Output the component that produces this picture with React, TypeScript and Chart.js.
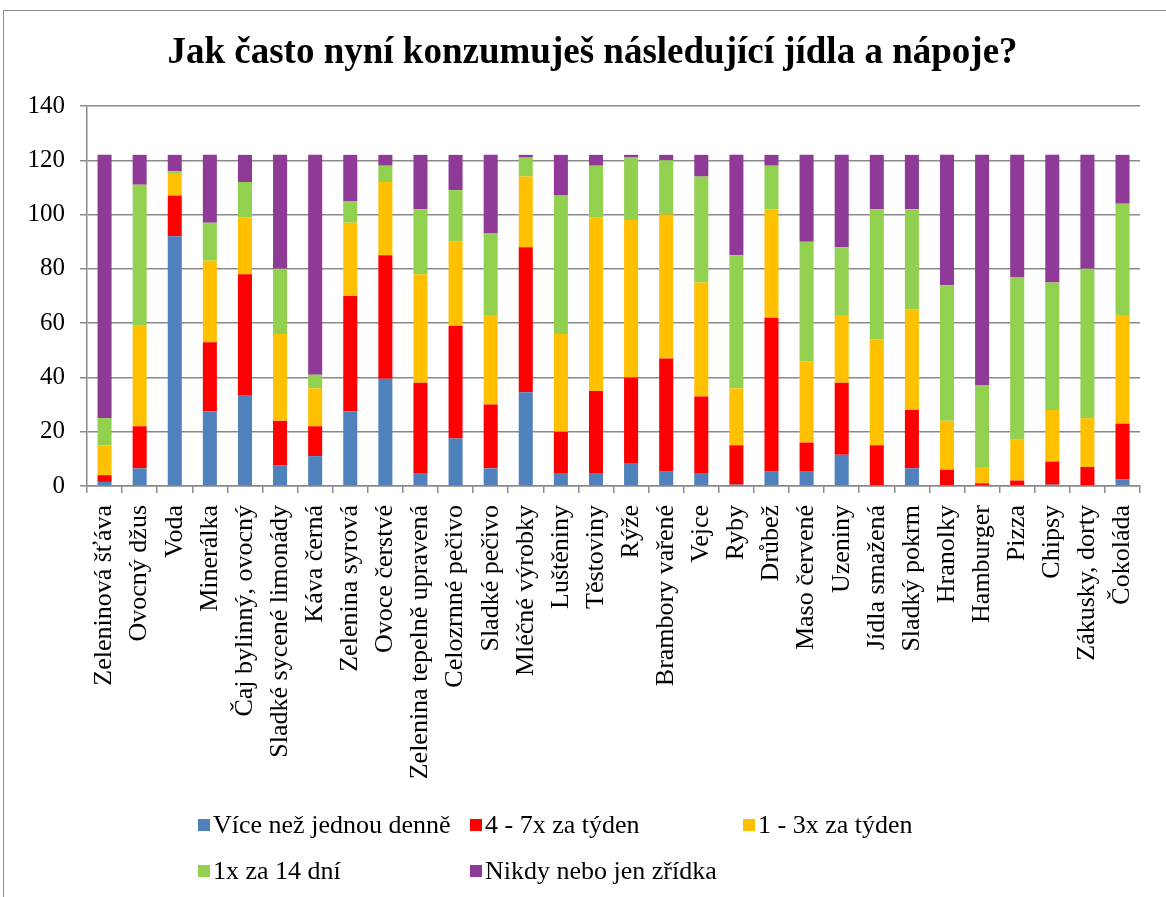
import React, { useEffect, useRef } from "react";
import { Chart, registerables } from "chart.js";

Chart.register(...registerables);

const title = "Jak často nyní konzumuješ následující jídla a nápoje?";

const categories = [
  "Zeleninová šťáva", "Ovocný džus", "Voda", "Minerálka", "Čaj bylinný, ovocný",
  "Sladké sycené limonády", "Káva černá", "Zelenina syrová", "Ovoce čerstvé",
  "Zelenina tepelně upravená", "Celozrnné pečivo", "Sladké pečivo", "Mléčné výrobky",
  "Luštěniny", "Těstoviny", "Rýže", "Brambory vařené", "Vejce", "Ryby", "Drůbež",
  "Maso červené", "Uzeniny", "Jídla smažená", "Sladký pokrm", "Hranolky", "Hamburger",
  "Pizza", "Chipsy", "Zákusky, dorty", "Čokoláda",
];

const seriesNames = [
  "Více než jednou denně",
  "4 - 7x za týden",
  "1 - 3x za týden",
  "1x za 14 dní",
  "Nikdy nebo jen zřídka",
];

const seriesColors = ["#4F81BD", "#FF0000", "#FFC000", "#92D050", "#8F3A97"];

const vDaily = [1.5, 6.5, 92, 27.5, 33.5, 7.5, 11, 27.5, 39.5, 4.5, 17.5, 6.5, 34.5, 4.5, 4.5, 8.5, 5.5, 4.5, 0.5, 5.5, 5.5, 11.5, 0, 6.5, 0, 0, 0, 0.5, 0, 2.5];
const v4to7 = [2.5, 15.5, 15, 25.5, 44.5, 16.5, 11, 42.5, 45.5, 33.5, 41.5, 23.5, 53.5, 15.5, 30.5, 31.5, 41.5, 28.5, 14.5, 56.5, 10.5, 26.5, 15, 21.5, 6, 1, 2, 8.5, 7, 20.5];
const v1to3 = [11, 37, 8, 30, 21, 32, 14, 27, 27, 40, 31, 33, 26, 36, 64, 58, 53, 42, 21, 40, 30, 25, 39, 37, 18, 6, 15, 19, 18, 40];
const v14days = [10, 52, 1, 14, 13, 24, 5, 8, 6, 24, 19, 30, 7, 51, 19, 23, 20, 39, 49, 16, 44, 25, 48, 37, 50, 30, 60, 47, 55, 41];
const vNever = [97, 11, 6, 25, 10, 42, 81, 17, 4, 20, 13, 29, 1, 15, 4, 1, 2, 8, 37, 4, 32, 34, 20, 20, 48, 85, 45, 47, 42, 18];

const seriesValues = [vDaily, v4to7, v1to3, v14days, vNever];

const yTicks = [0, 20, 40, 60, 80, 100, 120, 140];

const FONT = '"Liberation Serif", "Times New Roman", serif';
const GRID = "#8a8a8a";

const titleLegendPlugin = {
  id: "titleLegend",
  afterDraw(chart: any) {
    const ctx = chart.ctx;
    ctx.save();
    // title
    ctx.font = `bold 37px ${FONT}`;
    ctx.fillStyle = "#000";
    ctx.textAlign = "center";
    ctx.textBaseline = "alphabetic";
    ctx.fillText(title, 592.5, 63);
    // legend
    const cols = [198, 470, 743];
    const boxTops = [819, 865];
    const baselines = [833, 879];
    ctx.font = `26px ${FONT}`;
    ctx.textAlign = "left";
    chart.data.datasets.forEach((ds: any, i: number) => {
      const row = i < 3 ? 0 : 1;
      const col = i % 3;
      const x = cols[col];
      ctx.fillStyle = ds.backgroundColor;
      ctx.fillRect(x, boxTops[row], 12, 12);
      ctx.fillStyle = "#000";
      ctx.fillText(ds.label, x + 15, baselines[row]);
    });
    ctx.restore();
  },
};

export default function App() {
  const ref = useRef<HTMLCanvasElement | null>(null);

  useEffect(() => {
    if (!ref.current) return;
    const chart = new Chart(ref.current, {
      type: "bar",
      data: {
        labels: categories,
        datasets: seriesNames.map((name, i) => ({
          label: name,
          data: seriesValues[i],
          backgroundColor: seriesColors[i],
          borderWidth: 0,
          barPercentage: 0.4,
          categoryPercentage: 1,
        })),
      },
      options: {
        responsive: false,
        animation: false,
        devicePixelRatio: 1,
        layout: { padding: { left: 0, right: 17, top: 106, bottom: 0 } },
        plugins: {
          legend: { display: false },
          tooltip: { enabled: false },
          title: { display: false },
        },
        scales: {
          x: {
            stacked: true,
            grid: {
              display: true,
              drawOnChartArea: false,
              drawTicks: true,
              tickLength: 7,
              color: GRID,
              lineWidth: 1.5,
            },
            border: { display: true, color: GRID, width: 1.5 },
            ticks: {
              autoSkip: false,
              maxRotation: 90,
              minRotation: 90,
              padding: 12,
              color: "#000",
              font: { family: FONT, size: 26 },
            },
            afterFit: (scale: any) => {
              scale.height = 411;
            },
          },
          y: {
            stacked: true,
            min: 0,
            max: 140,
            afterBuildTicks: (scale: any) => {
              scale.ticks = yTicks.map((v) => ({ value: v }));
            },
            grid: {
              color: GRID,
              lineWidth: 1.5,
              drawTicks: true,
              tickLength: 7,
            },
            border: { display: true, color: GRID, width: 1.5 },
            ticks: {
              padding: 15,
              color: "#000",
              font: { family: FONT, size: 25 },
            },
            afterFit: (scale: any) => {
              scale.width = 87;
            },
          },
        },
      },
      plugins: [titleLegendPlugin],
    });
    return () => chart.destroy();
  }, []);

  return (
    <div style={{ position: "absolute", left: 0, top: 0, width: 1166, height: 897, overflow: "hidden", background: "#fff" }}>
      <canvas ref={ref} width={1166} height={897} style={{ position: "absolute", left: 0, top: 0 }} />
      <div
        style={{
          position: "absolute",
          left: 3,
          top: 10,
          width: 1200,
          height: 1000,
          borderLeft: "1.5px solid #8c8c8c",
          borderTop: "1.5px solid #8c8c8c",
          pointerEvents: "none",
        }}
      />
    </div>
  );
}
